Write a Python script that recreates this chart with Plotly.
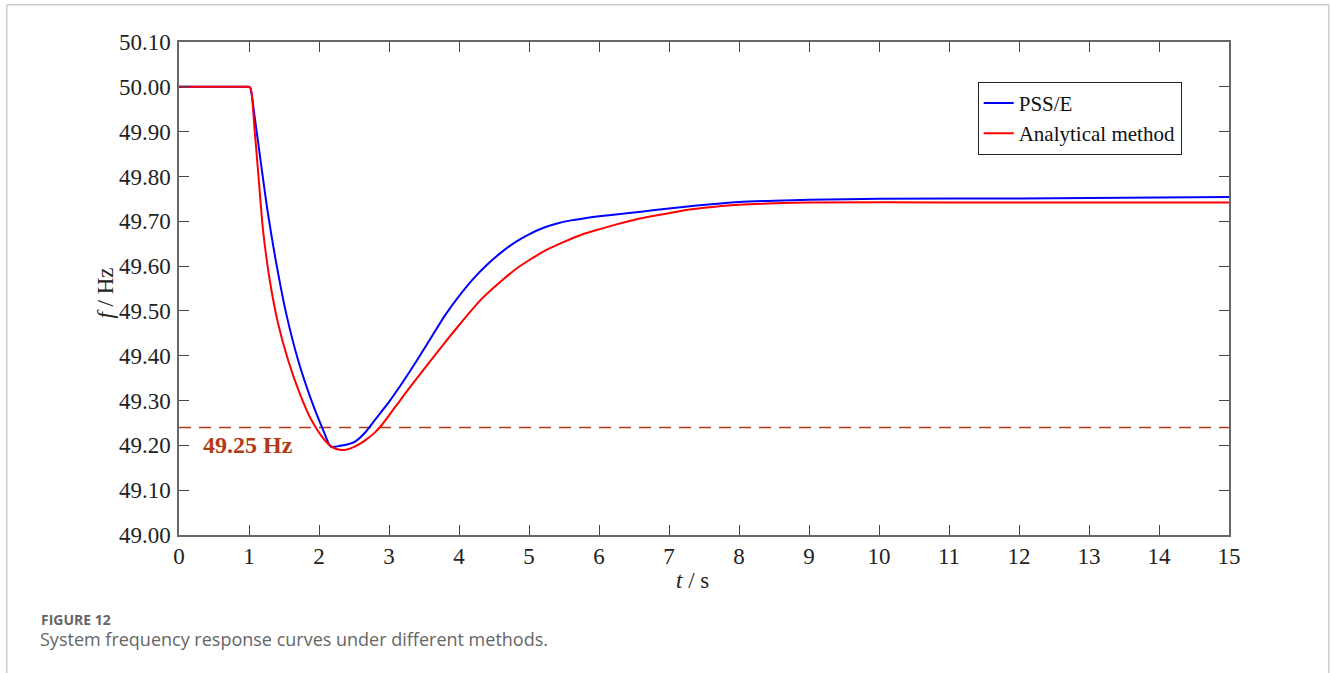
import plotly.graph_objects as go

# ---- data ----
t_pss = [0, 0.5, 0.95, 1.0, 1.02, 1.08, 1.177, 1.27, 1.39, 1.53, 1.70, 1.89, 2.06, 2.167, 2.23, 2.296,
         2.40, 2.51, 2.65, 2.80, 3.00, 3.20, 3.40, 3.60, 3.80, 4.00, 4.20, 4.40, 4.60, 4.80, 5.00,
         5.20, 5.40, 5.60, 5.80, 6.00, 6.40, 6.80, 7.20, 7.60, 8.00, 8.50, 9.00, 10.0, 12.0, 15.0]
f_pss = [50.00, 50.00, 50.00, 50.00, 49.997, 49.934, 49.822, 49.718, 49.606, 49.495, 49.391, 49.301,
         49.234, 49.197, 49.197, 49.199, 49.202, 49.208, 49.227, 49.257, 49.297, 49.342, 49.390,
         49.440, 49.490, 49.533, 49.571, 49.603, 49.630, 49.653, 49.671, 49.685, 49.695, 49.702,
         49.707, 49.711, 49.718, 49.725, 49.732, 49.738, 49.743, 49.746, 49.748, 49.750, 49.751, 49.754]

t_ana = [0, 0.5, 0.95, 1.0, 1.024, 1.08, 1.14, 1.20, 1.296, 1.414, 1.557, 1.724, 1.89, 2.08, 2.20, 2.296,
         2.40, 2.51, 2.65, 2.80, 2.90, 3.10, 3.30, 3.50, 3.75, 4.00, 4.30, 4.60, 4.80, 5.00, 5.25,
         5.50, 5.75, 6.00, 6.25, 6.50, 6.75, 7.00, 7.25, 7.50, 7.75, 8.00, 8.50, 9.00, 11.0, 13.0, 15.0]
f_ana = [50.00, 50.00, 50.00, 50.00, 49.997, 49.904, 49.792, 49.681, 49.569, 49.473, 49.391, 49.316,
         49.257, 49.212, 49.195, 49.190, 49.191, 49.197, 49.210, 49.229, 49.246, 49.288, 49.330,
         49.370, 49.420, 49.468, 49.523, 49.566, 49.592, 49.613, 49.636, 49.654, 49.670, 49.682,
         49.693, 49.703, 49.711, 49.718, 49.725, 49.730, 49.734, 49.737, 49.740, 49.742, 49.742,
         49.742, 49.742]

threshold_t = [0, 15]
threshold_f = [49.24, 49.24]
threshold_label = "49.25 Hz"

x_ticks = list(range(0, 16))
y_ticks = [49.00, 49.10, 49.20, 49.30, 49.40, 49.50, 49.60, 49.70, 49.80, 49.90, 50.00, 50.10]
y_ticklabels = [f"{v:.2f}" for v in y_ticks]

series_names = ["PSS/E", "Analytical method"]
series_colors = ["#0000ff", "#ff0000"]
threshold_color = "#b23a14"

SERIF = "Liberation Serif, Times New Roman, serif"

fig = go.Figure()
fig.add_trace(go.Scatter(x=threshold_t, y=threshold_f, mode="lines", showlegend=False,
                         line=dict(color=threshold_color, width=1.5, dash="12px,8px")))
fig.add_trace(go.Scatter(x=t_pss, y=f_pss, mode="lines", name=series_names[0],
                         line=dict(color=series_colors[0], width=2, shape="spline", smoothing=0.7)))
fig.add_trace(go.Scatter(x=t_ana, y=f_ana, mode="lines", name=series_names[1],
                         line=dict(color=series_colors[1], width=2, shape="spline", smoothing=0.7)))

fig.add_annotation(x=0.32, y=49.20, xref="x", yref="y", text=f"<b>{threshold_label}</b>",
                   showarrow=False, xanchor="left", yanchor="middle",
                   font=dict(family=SERIF, size=24, color=threshold_color))

axis_common = dict(showline=True, linecolor="#666666", linewidth=1.5, mirror="ticks",
                   ticks="inside", ticklen=10, tickwidth=1.3, tickcolor="#444444",
                   showgrid=False, zeroline=False,
                   tickfont=dict(family=SERIF, size=23, color="#222222"))

fig.update_xaxes(range=[0, 15], tickvals=x_ticks, ticktext=[str(v) for v in x_ticks], **axis_common)
fig.update_yaxes(range=[49.00, 50.10], tickvals=y_ticks, ticktext=y_ticklabels,
                 ticklabelstandoff=2, **axis_common)

# pixel -> paper helpers
L, R, T, B = 179.3, 1229.3, 42.2, 535.0
W, H = R - L, B - T
def px(x):
    return (x - L) / W
def py(y):
    return (B - y) / H

# axis titles placed as in the reference
fig.add_annotation(xref="paper", yref="paper", x=px(693), y=py(580), xanchor="center", yanchor="middle",
                   text="<i>t</i> / s", showarrow=False,
                   font=dict(family=SERIF, size=23, color="#222222"))
fig.add_annotation(xref="paper", yref="paper", x=px(106), y=py(293), xanchor="center", yanchor="middle",
                   text="<i>f</i> / Hz", showarrow=False, textangle=-90,
                   font=dict(family=SERIF, size=23, color="#222222"))

# outer frame of the figure panel (left, top, right)
frame_style = dict(color="#cccccc", width=1.5)
fig.add_shape(type="line", xref="paper", yref="paper", x0=px(7), x1=px(7), y0=py(5), y1=py(680), line=frame_style)
fig.add_shape(type="line", xref="paper", yref="paper", x0=px(7), x1=px(1329), y0=py(5), y1=py(5), line=frame_style)
fig.add_shape(type="line", xref="paper", yref="paper", x0=px(1329), x1=px(1329), y0=py(5), y1=py(680), line=frame_style)

fig.add_annotation(xref="paper", yref="paper", x=px(39), y=py(619), xanchor="left", yanchor="middle",
                   text="<b>FIGURE 12</b>", showarrow=False,
                   font=dict(family="Open Sans, sans-serif", size=14, color="#666666"))
fig.add_annotation(xref="paper", yref="paper", x=px(38), y=py(639), xanchor="left", yanchor="middle",
                   text="System frequency response curves under different methods.", showarrow=False,
                   font=dict(family="Open Sans, sans-serif", size=18, color="#666666"))

fig.update_layout(
    width=1331, height=673,
    margin=dict(l=L, r=1331 - R, t=T, b=673 - B, autoexpand=False),
    paper_bgcolor="white", plot_bgcolor="white",
    showlegend=True,
    legend=dict(x=px(978), y=py(82), xanchor="left", yanchor="top",
                bgcolor="white", bordercolor="#222222", borderwidth=1,
                font=dict(family=SERIF, size=21, color="#111111"),
                itemwidth=30, tracegroupgap=0),
)

fig.write_html("out.html", config={"displayModeBar": False},
               post_script="document.body.style.margin='0';")
